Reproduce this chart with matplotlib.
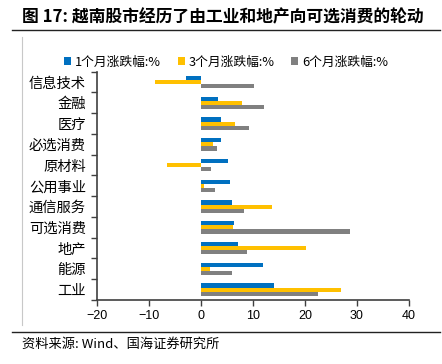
import matplotlib
matplotlib.use("Agg")
import matplotlib.pyplot as plt
import numpy as np
from matplotlib.lines import Line2D

plt.rcParams['font.family'] = ['Noto Sans CJK SC', 'DejaVu Sans']

categories = ["信息技术", "金融", "医疗", "必选消费", "原材料", "公用事业",
              "通信服务", "可选消费", "地产", "能源", "工业"]
m1 = [-2.9, 3.2, 3.8, 3.9, 5.1, 5.6, 5.9, 6.3, 7.2, 11.9, 14.0]
m3 = [-8.8, 7.9, 6.5, 2.3, -6.5, 0.5, 13.7, 6.1, 20.2, 1.8, 27.0]
m6 = [10.1, 12.1, 9.3, 3.0, 2.0, 2.7, 8.3, 28.6, 8.8, 6.0, 22.5]
series_names = ["1个月涨跌幅:%", "3个月涨跌幅:%", "6个月涨跌幅:%"]
colors = ["#0070C0", "#FFC000", "#808080"]
xticks = [-20, -10, 0, 10, 20, 30, 40]

W, H = 442, 364
fig = plt.figure(figsize=(W / 100, H / 100), dpi=100)

ax = fig.add_axes([97 / W, 1 - 300 / H, (409 - 97) / W, (300 - 71.7) / H])

y = np.arange(len(categories))
bh = 0.2
for k, (vals, c, name) in enumerate(zip([m1, m3, m6], colors, series_names)):
    ax.barh(y + (k - 1) * bh, vals, height=bh, color=c, label=name, zorder=2)

ax.set_ylim(len(categories) - 0.5, -0.5)
ax.set_xlim(-20, 40)
ax.set_xticks(xticks)
ax.set_xticklabels([f"\u2212{abs(v)}" if v < 0 else str(v) for v in xticks],
                   family=['Liberation Sans'], fontsize=9)
ax.set_yticks(y)
ax.set_yticklabels(categories, fontsize=10.3)
ax.tick_params(axis='y', length=0, pad=8)
ax.set_yticks(np.arange(-0.5, len(categories), 1), minor=True)
ax.tick_params(axis='y', which='minor', length=4, color='#404040', width=1)
ax.tick_params(axis='x', length=4, color='#404040', width=1, pad=3)
for s in ['top', 'right']:
    ax.spines[s].set_visible(False)
for s in ['left', 'bottom']:
    ax.spines[s].set_color('#404040')
    ax.spines[s].set_linewidth(1.2)

# legend
handles, labels = ax.get_legend_handles_labels()
fig.legend(handles, labels, loc='center', bbox_to_anchor=(226 / W, 1 - 62 / H),
           ncol=3, frameon=False, fontsize=9.2, handlelength=0.55, handleheight=0.55,
           handletextpad=0.3, columnspacing=1.3, borderaxespad=0)

# title
fig.text(22 / W, 1 - 17 / H, "图 17: 越南股市经历了由工业和地产向可选消费的轮动",
         fontsize=12.1, fontweight='bold', va='center', ha='left')
# lines
fig.add_artist(Line2D([12 / W, 440 / W], [1 - 30 / H, 1 - 30 / H], color='#222222', lw=1.0))
fig.add_artist(Line2D([12 / W, 440 / W], [1 - 332 / H, 1 - 332 / H], color='#222222', lw=1.0))
fig.add_artist(Line2D([22 / W, 22 / W], [1 - 37 / H, 1 - 325 / H], color='#c8c8c8', lw=0.8))
# source
fig.text(22 / W, 1 - 344 / H, "资料来源: Wind、国海证券研究所", fontsize=9.5, va='center', ha='left')

fig.savefig("out.png", dpi=100)
